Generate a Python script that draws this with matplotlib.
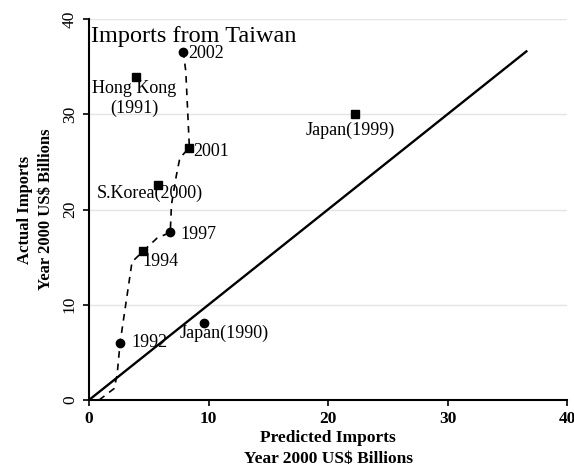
import matplotlib
matplotlib.use("Agg")
import matplotlib.pyplot as plt

# ---- data ----
point_labels = ["2002", "Hong Kong\n(1991)", "2001", "S.Korea(2000)", "1997",
                "1994", "1992", "Japan(1990)", "Japan(1999)"]
pred_x = [7.9, 3.9, 8.4, 5.8, 6.8, 4.5, 2.6, 9.6, 22.3]
actual_y = [36.5, 33.9, 26.5, 22.6, 17.6, 15.6, 6.0, 8.05, 30.0]

# Taiwan trajectory (dashed)
traj_x = [0.85, 2.1, 2.35, 2.6, 3.6, 4.1, 4.5, 5.7, 6.8, 6.9, 7.3, 7.6, 8.4, 8.1, 7.9]
traj_y = [0.0, 1.2, 2.6, 6.0, 14.5, 15.1, 15.6, 17.0, 17.6, 20.5, 23.5, 25.4, 26.5, 34.5, 36.5]

# 45-degree line
diag = [0, 36.6]

x_ticks = [0, 10, 20, 30, 40]
y_ticks = [0, 10, 20, 30, 40]

# ---- styles ----
markers = ["o", "s", "s", "s", "o", "s", "o", "o", "s"]
label_offsets = [(3.6, -0.7), (-1.0, -15.5), (2.5, -3.0), (-6, -6.5), (7.5, -1.5),
                 (0, -7.5), (8, 0.5), (14.5, -7), (-3.5, -11.5)]
label_ha = ["left", "center", "left", "center", "left", "left", "left", "center", "center"]

serif = ["Liberation Serif", "DejaVu Serif"]
plt.rcParams["font.family"] = serif

fig = plt.figure(figsize=(5.74, 4.72), dpi=100)
ax = fig.add_axes([89/574, 1 - 400/472, (567 - 89)/574, (400 - 19)/472])

for y in y_ticks[1:]:
    ax.axhline(y, color="#e4e4e4", lw=1.0, zorder=0)

ax.plot(diag, diag, color="black", lw=1.7, zorder=2)
ax.plot(traj_x, traj_y, color="black", lw=1.2, dashes=(4, 3.5), zorder=2)

for x, y, m, lab, off, ha in zip(pred_x, actual_y, markers, point_labels, label_offsets, label_ha):
    ax.plot([x], [y], marker=m, color="black", markersize=6 if m == "o" else 5.5, zorder=3)
    ax.annotate(lab, (x, y), xytext=off, textcoords="offset points",
                ha=ha, va="center", fontsize=13, multialignment="center",
                linespacing=1.25)

ax.text(0.004, 0.955, "Imports from Taiwan", transform=ax.transAxes,
        fontsize=17.5, ha="left", va="center")

ax.set_xlim(0, 40)
ax.set_ylim(0, 40)
ax.set_xticks(x_ticks)
ax.set_yticks(y_ticks)
ax.set_xticklabels([str(t) for t in x_ticks], fontsize=12.5, fontweight="bold")
ax.set_yticklabels([str(t) for t in y_ticks], fontsize=12.5, rotation=90, va="center")
ax.tick_params(direction="out", length=4, width=1.2, pad=4)
for s in ["top", "right"]:
    ax.spines[s].set_visible(False)
for s in ["left", "bottom"]:
    ax.spines[s].set_linewidth(1.5)

ax.set_xlabel("Predicted Imports\nYear 2000 US$ Billions", fontsize=12.5,
              fontweight="bold", linespacing=1.4, labelpad=2)
ax.set_ylabel("Actual Imports\nYear 2000 US$ Billions", fontsize=12,
              fontweight="bold", linespacing=1.4, labelpad=6)

fig.savefig("out.png", dpi=100)
